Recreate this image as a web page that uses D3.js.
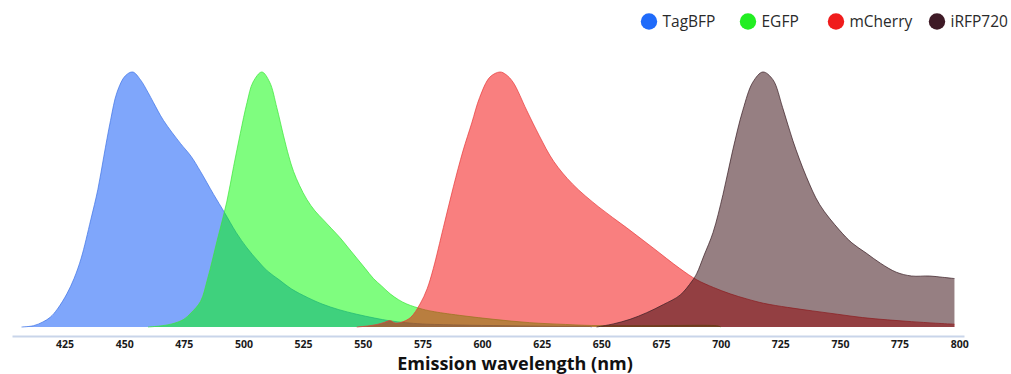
<!DOCTYPE html>
<html>
<head>
<meta charset="utf-8">
<script src="https://cdn.jsdelivr.net/npm/d3@7"></script>
<style>
  body { margin: 0; background: #fff; }
  svg { display: block; }
</style>
</head>
<body>
<div id="chart"></div>
<script>
// Emission spectra, [wavelength nm, normalised intensity]
const tagBFP = [
  [407, 0], [412, 0.005], [416, 0.02], [419, 0.038], [422, 0.07], [426, 0.13], [429, 0.19],
  [432, 0.27], [436, 0.42], [439, 0.54], [441.5, 0.67], [444.3, 0.81], [447, 0.92],
  [450.5, 0.985], [453.6, 1.0], [456.8, 0.97], [460, 0.92], [462.3, 0.88], [466.5, 0.81],
  [473.6, 0.72], [478, 0.67], [482, 0.61], [487.5, 0.52], [492, 0.45], [497, 0.37],
  [501.5, 0.31], [506, 0.26], [510, 0.22], [515, 0.185], [520, 0.15], [527, 0.115],
  [533, 0.09], [540, 0.068], [547.5, 0.05], [555, 0.035], [561.5, 0.024], [568, 0.017],
  [575, 0.012], [590, 0.008], [610, 0.005], [630, 0.003], [645, 0.002], [646, 0]
];

const eGFP = [
  [460, 0], [465, 0.004], [470, 0.012], [475, 0.03], [478, 0.055], [482, 0.1],
  [485, 0.19], [489, 0.34], [493, 0.49], [495.9, 0.63], [498.7, 0.76], [501.5, 0.88],
  [504, 0.96], [507.7, 1.0], [511, 0.96], [514, 0.86], [516.8, 0.75], [519, 0.67],
  [521, 0.61], [523.5, 0.555], [526.6, 0.5], [530, 0.455], [533.5, 0.42], [537, 0.385],
  [540.5, 0.35], [544, 0.31], [547.5, 0.27], [551, 0.23], [554.5, 0.19], [558, 0.16],
  [561.5, 0.13], [565, 0.107], [568.5, 0.09], [575, 0.07], [580, 0.06], [592, 0.044],
  [605, 0.03], [620, 0.017], [635, 0.01], [646, 0.006], [670, 0.005], [699, 0.004], [700, 0]
];

const mCherry = [
  [547.5, 0], [552, 0.004], [556, 0.01], [559, 0.018], [561.5, 0.025], [563.5, 0.016],
  [566, 0.018], [570, 0.037], [574, 0.09], [577, 0.15], [579.6, 0.23], [583.8, 0.39],
  [588, 0.55], [592, 0.69], [595.7, 0.8], [599, 0.9], [603.3, 0.98], [607.5, 1.0],
  [610, 0.99], [613, 0.96], [618.7, 0.85], [624, 0.75], [630, 0.65], [638, 0.56],
  [649, 0.47], [660.5, 0.39], [671.7, 0.31], [682.8, 0.23], [690, 0.185], [697, 0.155],
  [704, 0.13], [711, 0.11], [718, 0.093], [728, 0.077], [738.6, 0.063], [749, 0.05],
  [759.5, 0.037], [770, 0.028], [780, 0.021], [790, 0.015], [798, 0.011]
];

const iRFP720 = [
  [648, 0], [655, 0.012], [662, 0.03], [669, 0.056], [676, 0.088], [683, 0.125],
  [688, 0.18], [690, 0.21], [693, 0.28], [696.8, 0.37], [701, 0.52], [705, 0.69],
  [709.3, 0.85], [713.5, 0.96], [717.7, 1.0], [721.9, 0.97], [726, 0.86], [730.3, 0.73],
  [735.9, 0.59], [741.5, 0.48], [749.8, 0.38], [755, 0.33], [761, 0.29], [767, 0.25],
  [773.6, 0.215], [780, 0.2], [787.5, 0.2], [793, 0.195], [798, 0.19]
];

const seriesNames = ["TagBFP", "EGFP", "mCherry", "iRFP720"];
const seriesData = [tagBFP, eGFP, mCherry, iRFP720];
const fillColors = ["#004df7", "#00fc00", "#f30000", "#2d0005"];
const lineColors = ["#3f73e6", "#3ee63a", "#e83a3a", "#3a1f26"];
const legendColors = ["#1f6bfa", "#22ee22", "#f01c1c", "#3e1a26"];
const xTicks = [425, 450, 475, 500, 525, 550, 575, 600, 625, 650, 675, 700, 725, 750, 775, 800];

const width = 1011, height = 374;
const axisY = 336;

const svg = d3.select("#chart")
  .append("svg")
  .attr("width", width)
  .attr("height", height);

// Scales
const x = d3.scaleLinear().domain([403, 802]).range([12, 964]);
const y = d3.scaleLinear().domain([0, 1]).range([327, 72]);

const area = d3.area()
  .x(d => x(d[0]))
  .y0(y(0))
  .y1(d => Math.min(y(0), y(d[1])))
  .curve(d3.curveCatmullRom.alpha(0.5));

const line = d3.line()
  .x(d => x(d[0]))
  .y(d => Math.min(y(0), y(d[1])))
  .curve(d3.curveCatmullRom.alpha(0.5));

// Draw areas in order so later ones sit on top
seriesData.forEach((s, i) => {
  svg.append("path")
    .attr("d", area(s))
    .attr("fill", fillColors[i])
    .attr("fill-opacity", 0.5);
  svg.append("path")
    .attr("d", line(s))
    .attr("fill", "none")
    .attr("stroke", lineColors[i])
    .attr("stroke-width", 0.9)
    .attr("stroke-opacity", 0.8);
});

// x axis
const xAxis = svg.append("g")
  .attr("transform", "translate(0," + axisY + ")")
  .call(d3.axisBottom(x).tickValues(xTicks).tickSize(0).tickPadding(5).tickSizeOuter(0));

xAxis.select(".domain")
  .attr("stroke", "#c9d5ea")
  .attr("stroke-width", 2);

xAxis.selectAll("text")
  .attr("font-family", "'Open Sans', sans-serif")
  .attr("font-weight", "bold")
  .attr("font-size", "10.5px")
  .attr("fill", "#1a1a1a");

svg.append("text")
  .attr("x", 515)
  .attr("y", 370)
  .attr("text-anchor", "middle")
  .attr("font-family", "'Open Sans', sans-serif")
  .attr("font-weight", "bold")
  .attr("font-size", "18px")
  .attr("fill", "#111")
  .text("Emission wavelength (nm)");

// Legend
const legendX = [649, 748, 836, 937];
const legend = svg.append("g");
seriesNames.forEach((name, i) => {
  legend.append("circle")
    .attr("cx", legendX[i])
    .attr("cy", 21.5)
    .attr("r", 8.2)
    .attr("fill", legendColors[i]);
  legend.append("text")
    .attr("x", legendX[i] + 13.5)
    .attr("y", 26.8)
    .attr("font-family", "'Open Sans', sans-serif")
    .attr("font-size", "15.5px")
    .attr("fill", "#2a2a2a")
    .text(name);
});
</script>
</body>
</html>
